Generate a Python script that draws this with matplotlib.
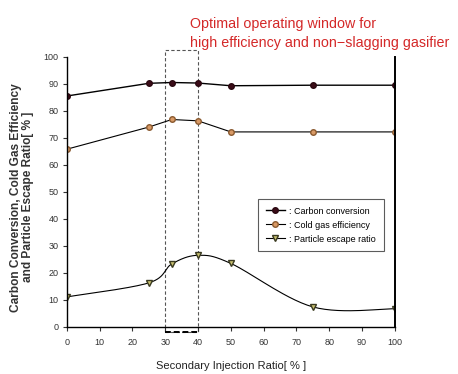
import numpy as np
import matplotlib
matplotlib.use("Agg")
import matplotlib.pyplot as plt
from matplotlib.patches import Rectangle

plt.rcParams['font.family'] = ['Liberation Sans', 'DejaVu Sans']

ratio = [0, 25, 32, 40, 50, 75, 100]
carbon = [85.5, 90.2, 90.5, 90.3, 89.3, 89.5, 89.5]
cold_gas = [65.8, 74.0, 76.8, 76.3, 72.2, 72.2, 72.2]
particle = [11.1, 16.3, 23.3, 26.5, 23.5, 7.4, 6.7]
x_ticks = [0, 10, 20, 30, 40, 50, 60, 70, 80, 90, 100]
y_ticks = [0, 10, 20, 30, 40, 50, 60, 70, 80, 90, 100]
window = (30, 40)


def smooth(x, y, n=30):
    """Catmull-Rom style smoothed path through the points."""
    x = np.asarray(x, float)
    y = np.asarray(y, float)
    px = np.concatenate([[x[0]], x, [x[-1]]])
    py = np.concatenate([[y[0]], y, [y[-1]]])
    xs, ys = [], []
    t = np.linspace(0, 1, n)
    for i in range(1, len(px) - 2):
        p0, p1, p2, p3 = (np.array([px[j], py[j]]) for j in range(i - 1, i + 3))
        c1 = p1 + (p2 - p0) / 6
        c2 = p2 - (p3 - p1) / 6
        pts = ((1 - t) ** 3)[:, None] * p1 + (3 * (1 - t) ** 2 * t)[:, None] * c1 \
            + (3 * (1 - t) * t ** 2)[:, None] * c2 + (t ** 3)[:, None] * p2
        xs.extend(pts[:, 0])
        ys.extend(pts[:, 1])
    return np.array(xs), np.array(ys)


fig = plt.figure(figsize=(4.58, 3.74), dpi=100)
ax = fig.add_axes([0.146, 0.126, 0.716, 0.722])

ax.plot(ratio, carbon, color='black', lw=1.0, marker='o', ms=4,
        mfc='#3b0c18', mec='#2a0810', label=': Carbon conversion')
ax.plot(ratio, cold_gas, color='black', lw=0.8, marker='o', ms=4,
        mfc='#d99a66', mec='#8a5a30', label=': Cold gas efficiency')
sx, sy = smooth(ratio, particle)
ax.plot(sx, sy, color='black', lw=0.8)
ax.plot(ratio, particle, ls='none', marker='v', ms=5,
        mfc='#c8c070', mec='#3a3a20')
ax.plot([], [], color='black', lw=0.8, marker='v', ms=5,
        mfc='#c8c070', mec='#3a3a20', label=': Particle escape ratio')

ax.add_patch(Rectangle((window[0], -2), window[1] - window[0], 104.5,
                       fill=False, ls=(0, (3, 2)), lw=0.8, ec='#555555',
                       clip_on=False))
ax.plot(window, [-2, -2], color='black', lw=1.4, ls=(0, (3, 1.5)), clip_on=False)

ax.set_xlim(0, 100)
ax.set_ylim(0, 100)
ax.set_xticks(x_ticks)
ax.set_yticks(y_ticks)
ax.tick_params(labelsize=6.5, length=3, width=0.8, colors='#333333')
ax.tick_params(axis='x', pad=5)
ax.tick_params(axis='y', pad=3)
ax.spines['top'].set_visible(False)
ax.spines['right'].set_linewidth(1.4)
for s in ('left', 'bottom'):
    ax.spines[s].set_linewidth(1.0)

ax.set_xlabel('Secondary Injection Ratio[ % ]', fontsize=8, color='#222222', labelpad=10)
ax.set_ylabel('Carbon Conversion, Cold Gas Efficiency\nand Particle Escape Ratio[ % ]',
              fontsize=8.6, fontweight='bold', color='#333333',
              linespacing=1.0)
ax.yaxis.set_label_coords(-0.1, 0.48)

leg = ax.legend(loc='lower left', bbox_to_anchor=(0.57, 0.265, 0.41, 0.205),
                mode='expand', fontsize=6.5, frameon=True, fancybox=False,
                edgecolor='#333333', handlelength=2.2, borderpad=0.8,
                labelspacing=0.55, handletextpad=0.4)
leg.get_frame().set_linewidth(0.8)

fig.text(0.415, 0.935, 'Optimal operating window for', color='#d42828',
         fontsize=10.3, ha='left', va='center')
fig.text(0.415, 0.885, 'high efficiency and non\u2212slagging gasifier', color='#d42828',
         fontsize=10.3, ha='left', va='center')

fig.savefig('out.png', dpi=100)
